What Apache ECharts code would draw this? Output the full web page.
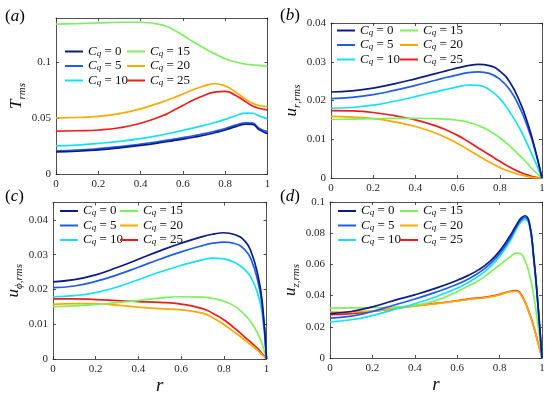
<!DOCTYPE html>
<html><head><meta charset="utf-8">
<script src="https://cdn.jsdelivr.net/npm/echarts@6/dist/echarts.min.js"></script>
<style>html,body{margin:0;padding:0;background:#fff}#c{width:550px;height:397px}</style>
</head><body><div id="c"></div>
<script>
// ---------- data ----------
const names = ['Cq = 0','Cq = 5','Cq = 10','Cq = 15','Cq = 20','Cq = 25'];
const colors = ['#0c1a8a','#1f5cf2','#12e2f2','#7ef060','#ffa800','#f01c1c'];

// (a) T_rms
const rA = [0,0.1,0.2,0.3,0.4,0.5,0.55,0.6,0.65,0.7,0.75,0.8,0.85,0.9,0.93,0.96,1];
const aC0  = [0.0198,0.0204,0.0217,0.0235,0.0257,0.0283,0.0298,0.0313,0.033,0.0348,0.037,0.0395,0.0425,0.0448,0.0445,0.0398,0.0362];
const aC5  = [0.0208,0.0214,0.0227,0.0245,0.0268,0.0295,0.031,0.0326,0.0343,0.0362,0.0384,0.0408,0.0438,0.046,0.0457,0.041,0.038];
const aC10 = [0.0252,0.026,0.0274,0.0293,0.0318,0.035,0.037,0.0392,0.0414,0.0437,0.0462,0.049,0.0523,0.0547,0.0545,0.0522,0.0495];
const aC15 = [0.1345,0.135,0.1356,0.1362,0.1362,0.1338,0.130,0.1245,0.1185,0.113,0.108,0.1035,0.1005,0.0985,0.098,0.0975,0.0965];
const aC20 = [0.0503,0.0507,0.0517,0.0542,0.0585,0.0645,0.068,0.0718,0.0758,0.079,0.081,0.079,0.0735,0.0665,0.0635,0.0615,0.0605];
const aC25 = [0.0385,0.0388,0.0395,0.0415,0.0455,0.052,0.0565,0.0615,0.0665,0.0705,0.0735,0.0742,0.0705,0.0645,0.061,0.059,0.0575];

// (b) u_r,rms
const rB = [0,0.1,0.2,0.3,0.4,0.5,0.55,0.6,0.65,0.7,0.75,0.8,0.85,0.9,0.93,0.96,1];
const bC0  = [0.0222,0.0225,0.0232,0.0243,0.0256,0.027,0.0277,0.0284,0.029,0.0293,0.029,0.0276,0.0245,0.019,0.0145,0.009,0];
const bC5  = [0.0205,0.0208,0.0215,0.0226,0.0239,0.0253,0.026,0.0266,0.0272,0.0274,0.027,0.0255,0.0226,0.0175,0.0134,0.0085,0];
const bC10 = [0.018,0.0182,0.0188,0.0198,0.021,0.0223,0.0229,0.0235,0.024,0.0239,0.0228,0.0205,0.0168,0.0122,0.0088,0.0052,0];
const bC15 = [0.0151,0.0152,0.0153,0.0154,0.0154,0.0153,0.0152,0.0149,0.0144,0.0135,0.0122,0.0104,0.0081,0.0055,0.0038,0.002,0];
const bC20 = [0.0159,0.0157,0.0153,0.0145,0.0133,0.0115,0.0103,0.0089,0.0073,0.0057,0.0041,0.0027,0.0016,0.0008,0.0004,0.0001,0];
const bC25 = [0.0174,0.0173,0.0169,0.0161,0.015,0.0134,0.0123,0.011,0.0094,0.0077,0.006,0.0043,0.0027,0.0014,0.0008,0.0003,0];

// (c) u_phi,rms
const rC = [0,0.1,0.2,0.3,0.4,0.5,0.6,0.7,0.75,0.8,0.85,0.9,0.93,0.96,0.98,1];
const cC0  = [0.0222,0.0228,0.0242,0.0263,0.0287,0.0311,0.0333,0.0352,0.0359,0.0363,0.0358,0.0338,0.0305,0.024,0.0165,0];
const cC5  = [0.0205,0.021,0.0223,0.0242,0.0264,0.0287,0.0308,0.0326,0.0333,0.0336,0.0332,0.0313,0.0283,0.0222,0.0152,0];
const cC10 = [0.0179,0.0182,0.0191,0.0207,0.0228,0.025,0.0269,0.0285,0.029,0.0288,0.0278,0.0256,0.0232,0.0185,0.013,0];
const cC15 = [0.0151,0.0153,0.0157,0.0162,0.0168,0.0175,0.0179,0.0178,0.0174,0.0166,0.0152,0.0126,0.0104,0.0072,0.0042,0];
const cC20 = [0.0157,0.0159,0.0159,0.0155,0.0149,0.0145,0.0141,0.0132,0.0118,0.0099,0.0077,0.0054,0.0039,0.0024,0.0012,0];
const cC25 = [0.0173,0.0173,0.0171,0.0168,0.0165,0.0163,0.0158,0.0145,0.0131,0.0113,0.0089,0.0062,0.0046,0.0029,0.0015,0];

// (d) u_z,rms
const rD = [0,0.1,0.2,0.3,0.4,0.5,0.6,0.65,0.7,0.75,0.8,0.85,0.88,0.9,0.92,0.94,0.96,0.98,1];
const dC0  = [0.0285,0.0298,0.0328,0.0368,0.0405,0.0448,0.0498,0.0528,0.0565,0.0615,0.0685,0.0785,0.0855,0.0895,0.0912,0.087,0.066,0.036,0];
const dC5  = [0.0255,0.0268,0.0298,0.0338,0.0378,0.0422,0.0473,0.0505,0.0545,0.0597,0.0668,0.0768,0.0842,0.0883,0.0902,0.0862,0.0655,0.0355,0];
const dC10 = [0.0232,0.0245,0.0272,0.031,0.0348,0.0393,0.0448,0.0483,0.0525,0.0578,0.065,0.0752,0.0828,0.087,0.0888,0.0855,0.065,0.035,0];
const dC15 = [0.032,0.0321,0.0322,0.0327,0.0338,0.0368,0.0425,0.046,0.0495,0.0543,0.0596,0.0648,0.0672,0.0668,0.0625,0.054,0.041,0.022,0];
const dC20 = [0.0294,0.0296,0.0302,0.0316,0.0332,0.0348,0.0366,0.0375,0.0382,0.039,0.0405,0.0425,0.0428,0.0406,0.0357,0.0288,0.0203,0.0104,0];
const dC25 = [0.0278,0.0285,0.0298,0.0317,0.0335,0.035,0.0368,0.0378,0.0385,0.0393,0.0408,0.0428,0.0432,0.041,0.036,0.029,0.0205,0.0105,0];

const xTicks = {min:0, max:1, interval:0.2};
const yRanges = [{min:0,max:0.14,interval:0.05},{min:0,max:0.04,interval:0.01},{min:0,max:0.045,interval:0.01},{min:0,max:0.1,interval:0.02}];

// ---------- layout / style ----------
const FONT = "'Liberation Serif','DejaVu Serif',serif";
const AX = '#262626';
const grids = [
  {left:56, top:18, width:211.5, height:156},
  {left:331, top:23, width:211, height:155},
  {left:53, top:202.5, width:213.5, height:156.5},
  {left:330, top:202, width:212, height:156}
];
const panels = [
  {r:rA, ys:[aC0,aC5,aC10,aC15,aC20,aC25], yname:'{m|T}{s|rms}', gap:23, xname:'', label:'a', lx:15, ly:18, leg:[65,127,45]},
  {r:rB, ys:[bC0,bC5,bC10,bC15,bC20,bC25], yname:'{m|u}{s|r}{c|,}{s|rms}', gap:25, xname:'', label:'b', lx:290, ly:17, leg:[337,400,24]},
  {r:rC, ys:[cC0,cC5,cC10,cC15,cC20,cC25], yname:'{m|u}{s|ϕ}{c|,}{s|rms}', gap:27, xname:'r', label:'c', lx:15, ly:198, leg:[60,120,204.5]},
  {r:rD, ys:[dC0,dC5,dC10,dC15,dC20,dC25], yname:'{m|u}{s|z}{c|,}{s|rms}', gap:28, xname:'r', label:'d', lx:290, ly:198, leg:[338,400,204.5]}
];
const fmt = v => String(+(+v).toFixed(4));
const nameRich = {
  m:{fontFamily:FONT, fontStyle:'italic', fontSize:17, lineHeight:20, verticalAlign:'top', color:'#111'},
  s:{fontFamily:FONT, fontStyle:'italic', fontSize:11, lineHeight:10, verticalAlign:'bottom', color:'#111'},
  c:{fontFamily:FONT, fontSize:11, lineHeight:10, verticalAlign:'bottom', color:'#111'}
};
const legRich = {
  i:{fontFamily:FONT, fontStyle:'italic', fontSize:13, lineHeight:13, verticalAlign:'top', color:'#111'},
  s:{fontFamily:FONT, fontStyle:'italic', fontSize:9, lineHeight:8, verticalAlign:'bottom', color:'#111'},
  n:{fontFamily:FONT, fontSize:13, lineHeight:13, verticalAlign:'top', color:'#111'}
};

const xAxis = [], yAxis = [], series = [], legend = [], graphic = [];
panels.forEach((p, gi) => {
  const tick = {show:true, inside:true, length:3, lineStyle:{color:AX, width:0.8}};
  const line = {show:true, onZero:false, lineStyle:{color:AX, width:0.8}};
  xAxis.push({type:'value', gridIndex:gi, position:'bottom', ...xTicks, axisLine:line, axisTick:tick, splitLine:{show:false},
    axisLabel:{margin:5, fontFamily:FONT, fontSize:11, color:AX, formatter:fmt},
    name:p.xname, nameLocation:'middle', nameGap:17, nameTextStyle:{fontFamily:FONT, fontStyle:'italic', fontSize:19, color:'#111'}});
  xAxis.push({type:'value', gridIndex:gi, position:'top', ...xTicks, axisLine:line, axisTick:tick, splitLine:{show:false}, axisLabel:{show:false}});
  yAxis.push({type:'value', gridIndex:gi, position:'left', ...yRanges[gi], axisLine:line, axisTick:tick, splitLine:{show:false},
    axisLabel:{margin:5, fontFamily:FONT, fontSize:11, color:AX, formatter:fmt, showMaxLabel: (gi===1||gi===3)},
    name:p.yname, nameLocation:'middle', nameRotate:90, nameGap:p.gap, nameTextStyle:{rich:nameRich}});
  yAxis.push({type:'value', gridIndex:gi, position:'right', ...yRanges[gi], axisLine:line, axisTick:tick, splitLine:{show:false}, axisLabel:{show:false}});
  p.ys.forEach((arr, si) => {
    series.push({type:'line', name:names[si], xAxisIndex:gi*2, yAxisIndex:gi*2, symbol:'none', showSymbol:false, smooth:0.5,
      color:colors[si], lineStyle:{width:1.7, color:colors[si]}, z: 10 - si,
      data:p.r.map((r,i)=>[r, arr[i]])});
  });
  [0,1].forEach(col => {
    legend.push({orient:'vertical', left:p.leg[col], top:p.leg[2], itemWidth:18, itemHeight:2, icon:'rect', itemGap:1.5, padding:0,
      data:names.slice(col*3, col*3+3),
      formatter: n => '{i|C}{s|q}{n| = ' + n.split('= ')[1] + '}',
      textStyle:{rich:legRich}});
  });
  graphic.push({type:'text', left:p.lx-10, top:p.ly-10, style:{text:'{p|(}{l|'+p.label+'}{p|)}',
    rich:{p:{fontFamily:FONT, fontSize:17, color:'#111'}, l:{fontFamily:FONT, fontStyle:'italic', fontSize:17, color:'#111'}}}});
});

const chart = echarts.init(document.getElementById('c'), null, {renderer:'canvas'});
chart.setOption({animation:false, backgroundColor:'#fff', grid:grids, xAxis, yAxis, series, legend, graphic});
</script></body></html>
